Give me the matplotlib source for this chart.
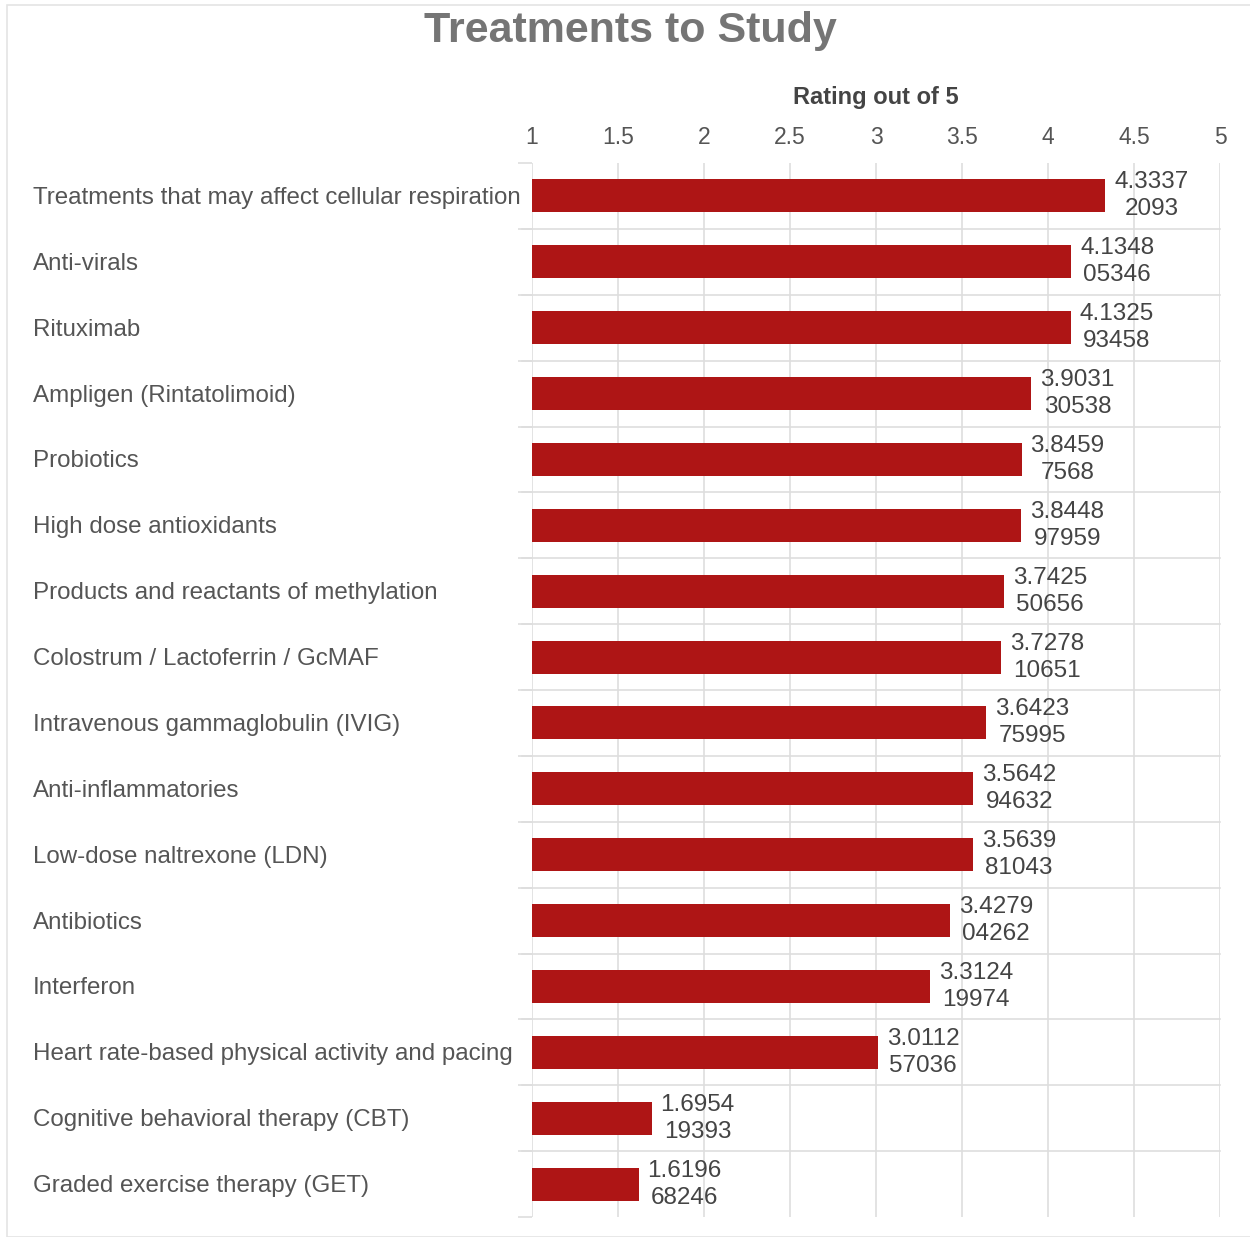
import matplotlib.pyplot as plt
from matplotlib.patches import Rectangle
from matplotlib.ticker import FixedLocator

plt.rcParams["font.family"] = ["Liberation Sans", "DejaVu Sans"]

# ratings, listed top to bottom
treatments = [
    "Treatments that may affect cellular respiration",
    "Anti-virals",
    "Rituximab",
    "Ampligen (Rintatolimoid)",
    "Probiotics",
    "High dose antioxidants",
    "Products and reactants of methylation",
    "Colostrum / Lactoferrin / GcMAF",
    "Intravenous gammaglobulin (IVIG)",
    "Anti-inflammatories",
    "Low-dose naltrexone (LDN)",
    "Antibiotics",
    "Interferon",
    "Heart rate-based physical activity and pacing",
    "Cognitive behavioral therapy (CBT)",
    "Graded exercise therapy (GET)",
]
ratings = [
    4.33372093, 4.134805346, 4.132593458, 3.903130538,
    3.84597568, 3.844897959, 3.742550656, 3.727810651,
    3.642375995, 3.564294632, 3.563981043, 3.427904262,
    3.312419974, 3.011257036, 1.695419393, 1.619668246,
]
x_ticks = [1, 1.5, 2, 2.5, 3, 3.5, 4, 4.5, 5]
x_tick_labels = ["1", "1.5", "2", "2.5", "3", "3.5", "4", "4.5", "5"]

BAR_COLOR = "#ae1515"
GRID_COLOR = "#dedede"

W, H = 1250, 1237
fig = plt.figure(figsize=(W / 100, H / 100), dpi=100)
ax = fig.add_axes([532 / W, 1 - 1217 / H, (1220 - 532) / W, (1217 - 163) / H])

n = len(treatments)
ypos = list(range(n))
ax.barh(ypos, [r - 1 for r in ratings], left=1, height=0.5, color=BAR_COLOR, zorder=3)

ax.set_xlim(1, 5)
ax.set_ylim(n - 0.5, -0.5)

ax.xaxis.set_ticks_position("top")
ax.xaxis.set_label_position("top")
ax.set_xticks(x_ticks)
ax.set_xticklabels(x_tick_labels, fontsize=16.5, color="#555555")
ax.tick_params(axis="x", length=0, pad=10)
ax.set_xlabel("Rating out of 5", fontsize=17, fontweight="bold", color="#444444", labelpad=16)

ax.set_yticks(ypos)
ax.set_yticklabels([])
ax.tick_params(axis="y", which="major", length=0)
ax.yaxis.set_minor_locator(FixedLocator([i - 0.5 for i in range(n + 1)]))
ax.tick_params(axis="y", which="minor", length=10, color=GRID_COLOR, width=1.2)

ax.grid(axis="x", color=GRID_COLOR, linewidth=1.2, zorder=0)
for b in range(1, n):
    ax.axhline(b - 0.5, color=GRID_COLOR, linewidth=1.2, zorder=1, clip_on=False,
               xmin=-10 / 688, xmax=1)
for s in ax.spines.values():
    s.set_visible(False)

# category names, left aligned at the figure margin
for y, name in zip(ypos, treatments):
    ax.annotate(name, xy=(0, y), xycoords=("figure fraction", "data"),
                xytext=(33, -2), textcoords="offset pixels",
                ha="left", va="center", fontsize=17.4, color="#555555")

# value labels, wrapped after six characters
for y, r in zip(ypos, ratings):
    s = str(r)
    ax.annotate(s[:6] + "\n" + s[6:], xy=(r, y), xytext=(9, 0),
                textcoords="offset pixels", ha="left", va="center",
                multialignment="center", fontsize=17.5, color="#444444",
                linespacing=1.3, zorder=4)

fig.text(630 / W, 1 - 31 / H, "Treatments to Study", ha="center", va="center",
         fontsize=31, fontweight="bold", color="#757575")

fig.patches.append(Rectangle((7 / W, 0), 1, 1 - 5 / H, transform=fig.transFigure,
                             fill=False, edgecolor="#e4e4e4", linewidth=1.2))

fig.savefig("out.png", dpi=100)
